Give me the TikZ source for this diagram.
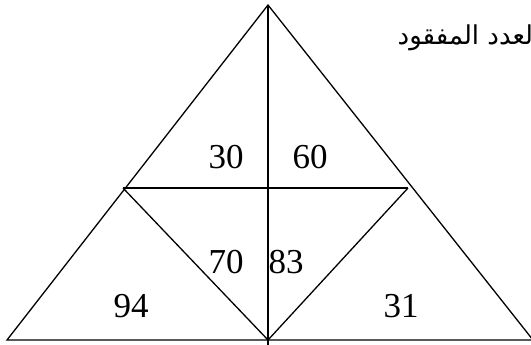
\documentclass[tikz,border=0pt]{standalone}
\usepackage{fontspec}
\setmainfont{Liberation Serif}
\newfontfamily\arabicfont[Script=Arabic]{DejaVu Sans}
\TeXXeTstate=1
\usetikzlibrary{positioning}

\begin{document}
\begin{tikzpicture}[x=1pt, y=-1pt, line width=1.3pt, num/.style={font=\fontsize{35}{35}\selectfont, inner sep=0pt}]
  \useasboundingbox (0,0) rectangle (531,345);
  \coordinate (top) at (268,5);
  \coordinate (bl) at (7,340);
  \coordinate (br) at (533,340);
  \coordinate (ml) at (123,188);
  \coordinate (mr) at (408,188);
  \coordinate (bm) at (268,340);
  \coordinate (bot) at (268,345);
  \draw (top) -- (bl) -- (br) -- cycle;
  \draw (top) -- (bot);
  \draw (ml) -- (mr);
  \draw (ml) -- (bm) -- (mr);
  \node[num] (n30) at (226,157) {30};
  \node[num] (n60) at (310,157) {60};
  \node[num] (n70) at (226,262) {70};
  \node[num] (n83) at (286,262) {83};
  \node[num] (n94) at (131,306) {94};
  \node[num] (n31) at (401,306) {31};
  \node[anchor=base east, inner sep=0pt, font=\arabicfont\fontsize{26}{26}\selectfont] (title) at (541,45) {\beginR العدد المفقود\endR};
\end{tikzpicture}
\end{document}
